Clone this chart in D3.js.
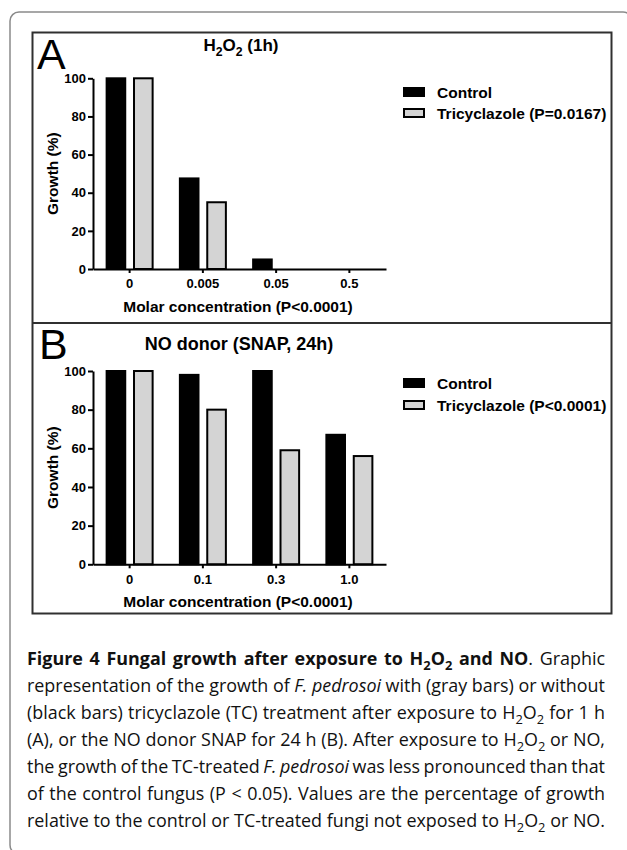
<!DOCTYPE html>
<html>
<head>
<meta charset="utf-8">
<script src="https://cdn.jsdelivr.net/npm/d3@7"></script>
<style>
  body { margin: 0; background: #fff; }
  svg { display: block; }
</style>
</head>
<body>
<script>
// values (growth, %)
var seriesNames = ["Control", "Tricyclazole"];
var concA = ["0", "0.005", "0.05", "0.5"];
var controlA = [100, 47.5, 5, 0];
var tricyA = [100, 35, 0, 0];
var concB = ["0", "0.1", "0.3", "1.0"];
var controlB = [100, 98, 100, 67];
var tricyB = [100, 80, 59, 56];
var yTicks = [0, 20, 40, 60, 80, 100];
var legendA = ["Control", "Tricyclazole (P=0.0167)"];
var legendB = ["Control", "Tricyclazole (P<0.0001)"];
var xTitle = "Molar concentration (P<0.0001)";
var yTitle = "Growth (%)";

var W = 627, H = 850;
var fills = ["#000", "#d4d4d4"];
var chartFont = "'Liberation Sans', Arial, Helvetica, sans-serif";
var capFont = "'Open Sans', 'Noto Sans', sans-serif";

var svg = d3.select("body").append("svg")
    .attr("width", W)
    .attr("height", H);

// outer rounded frame of the page
svg.append("rect")
    .attr("x", 10).attr("y", 12)
    .attr("width", 622).attr("height", 842)
    .attr("rx", 9)
    .attr("fill", "none")
    .attr("stroke", "#8a8a8a")
    .attr("stroke-width", 1.5);

// box round both panels
var box = svg.append("g")
    .attr("fill", "none")
    .attr("stroke", "#303030")
    .attr("stroke-width", 2);
box.append("rect").attr("x", 32.5).attr("y", 32.5).attr("width", 579).attr("height", 581);
box.append("line").attr("x1", 32.5).attr("x2", 611.5).attr("y1", 323).attr("y2", 323);

// text with sub scripts / bold / italic pieces
function addRich(sel, parts, fs) {
    var shifted = 0;
    parts.forEach(function (pt) {
        var t = sel.append("tspan").text(pt[0]);
        var st = pt[1] || "";
        var isSub = st.indexOf("sub") >= 0;
        if (isSub) t.attr("font-size", fs * 0.72);
        if (st.indexOf("b") === 0) t.attr("font-weight", "bold");
        if (st === "i") t.attr("font-style", "italic");
        var want = isSub ? fs * 0.28 : 0;
        if (want !== shifted) { t.attr("dy", want - shifted); shifted = want; }
    });
}

function drawPanel(p) {
    var g = svg.append("g").attr("font-family", chartFont);

    var x0 = d3.scaleBand().domain(p.cats).range([93, 386]);
    var x1 = d3.scaleBand().domain(seriesNames).range([-23, 23]).paddingInner(0.32);
    var y = d3.scaleLinear().domain([0, 100]).range([p.y0, p.y100]);

    var rows = p.cats.map(function (c, i) {
        return { cat: c, vals: [p.ctrl[i], p.tc[i]] };
    });

    //bars
    g.append("g").selectAll("g")
        .data(rows)
        .enter().append("g")
        .attr("transform", function (d) {
            return "translate(" + (x0(d.cat) + x0.bandwidth() / 2) + ",0)";
        })
        .selectAll("rect")
        .data(function (d) {
            return d.vals.map(function (v, k) { return { v: v, k: k }; })
                .filter(function (e) { return e.v > 0; });
        })
        .enter().append("rect")
        .attr("x", function (e) { return x1(seriesNames[e.k]); })
        .attr("y", function (e) { return y(e.v); })
        .attr("width", x1.bandwidth())
        .attr("height", function (e) { return y(0) - y(e.v); })
        .attr("fill", function (e) { return fills[e.k]; })
        .attr("stroke", "#000")
        .attr("stroke-width", 2);

    //axes
    var yAx = g.append("g")
        .attr("transform", "translate(93,0)")
        .call(d3.axisLeft(y).tickValues(yTicks).tickSize(5).tickSizeOuter(0).tickPadding(2));
    var xAx = g.append("g")
        .attr("transform", "translate(0," + p.y0 + ")")
        .call(d3.axisBottom(x0).tickSize(4).tickSizeOuter(0).tickPadding(6));
    [yAx, xAx].forEach(function (a) {
        a.select(".domain").attr("stroke", "#000").attr("stroke-width", 2);
        a.selectAll(".tick line").attr("stroke", "#000").attr("stroke-width", 2);
        a.selectAll("text")
            .attr("font-family", chartFont)
            .attr("font-size", 13)
            .attr("font-weight", "bold")
            .attr("fill", "#000");
    });

    //axis titles
    g.append("text")
        .attr("x", 238).attr("y", p.y0 + 43)
        .attr("text-anchor", "middle")
        .attr("font-size", 15.5).attr("font-weight", "bold")
        .text(xTitle);
    g.append("text")
        .attr("transform", "translate(58," + ((p.y0 + p.y100) / 2) + ") rotate(-90)")
        .attr("text-anchor", "middle")
        .attr("font-size", 15.5).attr("font-weight", "bold")
        .text(yTitle);

    //panel letter and title
    g.append("text")
        .attr("x", p.letterX).attr("y", p.letterY)
        .attr("font-size", 43)
        .text(p.letter);
    var tt = g.append("text")
        .attr("x", p.titleX).attr("y", p.titleY)
        .attr("text-anchor", "middle")
        .attr("font-size", p.titleSize).attr("font-weight", "bold");
    addRich(tt, p.title, p.titleSize);

    //legend
    var lg = g.append("g").selectAll("g")
        .data(p.legend)
        .enter().append("g")
        .attr("transform", function (d, i) {
            return "translate(404," + (p.legendY + i * p.legendStep) + ")";
        });
    lg.append("rect")
        .attr("width", 20).attr("height", 8)
        .attr("fill", function (d, i) { return fills[i]; })
        .attr("stroke", "#000").attr("stroke-width", 2);
    lg.append("text")
        .attr("x", 33).attr("y", 10)
        .attr("font-size", 15.5).attr("font-weight", "bold")
        .text(function (d) { return d; });
}

drawPanel({
    cats: concA, ctrl: controlA, tc: tricyA,
    y0: 269, y100: 78.3,
    letter: "A", letterX: 37, letterY: 69,
    title: [["H"], ["2", "bsub"], ["O"], ["2", "bsub"], [" (1h)"]],
    titleX: 241, titleY: 51, titleSize: 17,
    legend: legendA, legendY: 88, legendStep: 21
});
drawPanel({
    cats: concB, ctrl: controlB, tc: tricyB,
    y0: 564.3, y100: 371,
    letter: "B", letterX: 39, letterY: 359,
    title: [["NO donor (SNAP, 24h)"]],
    titleX: 239, titleY: 350, titleSize: 18,
    legend: legendB, legendY: 379, legendStep: 22
});

// caption, justified between x=27 and x=605
var capLines = [
    [["Figure 4 Fungal growth after exposure to H", "b"], ["2", "bsub"], ["O", "b"], ["2", "bsub"], [" and NO", "b"], [". Graphic"]],
    [["representation of the growth of "], ["F. pedrosoi", "i"], [" with (gray bars) or without"]],
    [["(black bars) tricyclazole (TC) treatment after exposure to H"], ["2", "sub"], ["O"], ["2", "sub"], [" for 1 h"]],
    [["(A), or the NO donor SNAP for 24 h (B). After exposure to H"], ["2", "sub"], ["O"], ["2", "sub"], [" or NO,"]],
    [["the growth of the TC-treated "], ["F. pedrosoi", "i"], [" was less pronounced than that"]],
    [["of the control fungus (P < 0.05). Values are the percentage of growth"]],
    [["relative to the control or TC-treated fungi not exposed to H"], ["2", "sub"], ["O"], ["2", "sub"], [" or NO."]]
];
var capX = 27, capW = 578, baseSize = 15.5;

// first pass: find the size at which the widest line just fits
var probe = capLines.map(function (parts) {
    var t = svg.append("text")
        .attr("font-family", capFont)
        .attr("font-size", baseSize)
        .attr("word-spacing", -1);
    addRich(t, parts, baseSize);
    var w = t.node().getComputedTextLength();
    t.remove();
    return w;
});
var capSize = baseSize * d3.min(probe, function (w) { return capW / w; });

capLines.forEach(function (parts, i) {
    var t = svg.append("text")
        .attr("x", capX).attr("y", 665 + i * 27)
        .attr("font-family", capFont)
        .attr("font-size", capSize)
        .attr("fill", "#111");
    addRich(t, parts, capSize);
    var w = t.node().getComputedTextLength();
    var n = (t.text().match(/ /g) || []).length;
    t.attr("word-spacing", (capW - w) / n);
});
</script>
</body>
</html>
